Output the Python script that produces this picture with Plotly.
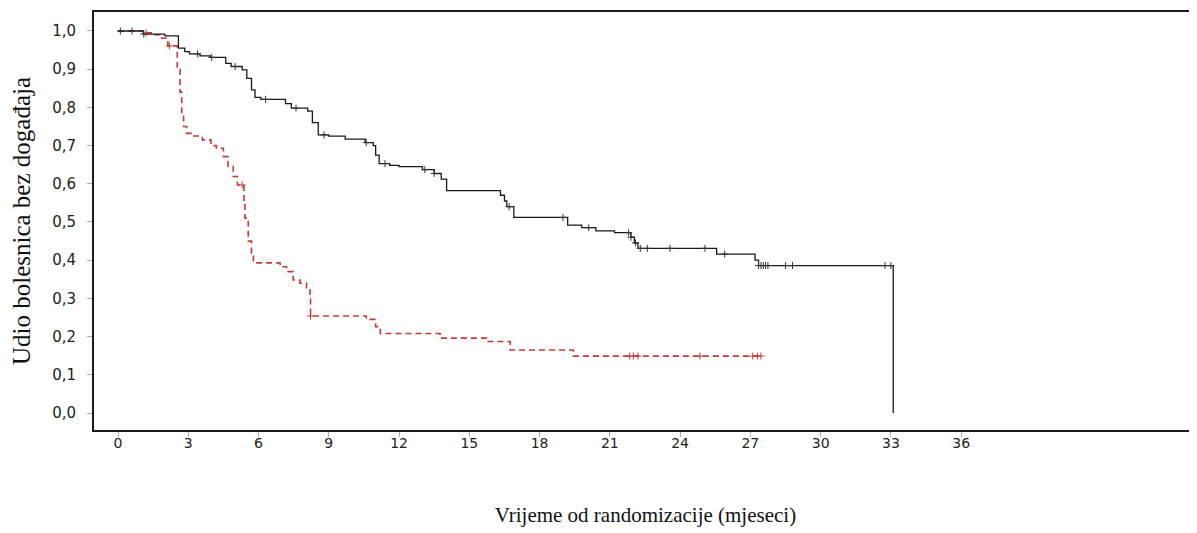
import numpy as np
import plotly.graph_objects as go

# ---- data ----
black_t = [0, 1.08, 2.0, 2.58, 2.85, 3.05, 3.5, 3.94, 4.6, 4.83, 5.3, 5.5, 5.7, 5.85, 6.1,
           7.15, 7.4, 8.1, 8.3, 8.55, 9.0, 9.7, 10.55, 10.9, 11.0, 11.15, 11.6, 12.0, 13.0,
           13.5, 13.8, 14.03, 16.33, 16.5, 16.6, 16.9, 19.2, 19.8, 20.4, 21.2, 21.9, 22.05,
           22.2, 25.56, 27.2, 27.35, 33.1]
black_s = [1.0, 0.992, 0.987, 0.955, 0.946, 0.94, 0.935, 0.931, 0.915, 0.907, 0.898, 0.876,
           0.846, 0.826, 0.821, 0.81, 0.798, 0.79, 0.76, 0.728, 0.725, 0.717, 0.708, 0.70,
           0.675, 0.653, 0.648, 0.645, 0.637, 0.627, 0.612, 0.582, 0.57, 0.555, 0.54, 0.512,
           0.492, 0.485, 0.477, 0.472, 0.46, 0.445, 0.431, 0.416, 0.40, 0.386, 0.0]
black_censor = [0.1, 0.6, 1.1, 3.4, 4.0, 5.0, 6.3, 7.6, 8.8, 10.6, 11.4, 13.1, 13.5, 16.7,
                19.0, 20.1, 21.8, 21.9, 22.1, 22.3, 22.6, 23.57, 25.06, 25.9, 27.35, 27.45,
                27.55, 27.65, 27.75, 28.5, 28.8, 32.75, 33.0]

red_t = [0, 1.08, 1.5, 1.87, 2.13, 2.53, 2.65, 2.72, 2.8, 2.93, 3.13, 3.6, 3.97, 4.2, 4.5,
         4.7, 4.92, 5.1, 5.38, 5.42, 5.56, 5.7, 5.78, 6.92, 7.2, 7.48, 7.77, 8.05, 8.2, 8.22,
         10.6, 11.0, 11.2, 13.75, 15.74, 16.74, 19.44, 27.5]
red_s = [1.0, 0.995, 0.99, 0.981, 0.961, 0.90, 0.84, 0.78, 0.75, 0.732, 0.725, 0.715, 0.70,
         0.693, 0.671, 0.645, 0.619, 0.597, 0.55, 0.51, 0.45, 0.418, 0.393, 0.383, 0.37,
         0.348, 0.34, 0.326, 0.304, 0.254, 0.245, 0.226, 0.208, 0.196, 0.187, 0.165, 0.149,
         0.149]
red_censor = [1.2, 2.2, 5.3, 8.22, 21.85, 22.0, 22.2, 24.85, 27.1, 27.3, 27.45]

x_ticks = list(range(0, 37, 3))
y_ticks = [round(0.1 * i, 1) for i in range(11)]

x_title = "Vrijeme od randomizacije (mjeseci)"
y_title = "Udio bolesnica bez događaja"


def surv_at(times, surv, pts):
    t = np.asarray(times)
    s = np.asarray(surv)
    idx = np.searchsorted(t, np.asarray(pts), side="right") - 1
    return s[np.clip(idx, 0, len(s) - 1)]


RED = "#c23b36"
SERIF = "Liberation Serif, Times New Roman, serif"

fig = go.Figure()
fig.add_trace(go.Scatter(x=red_t, y=red_s, mode="lines", line_shape="hv",
                         line=dict(color=RED, width=1.6, dash="6px,4px"),
                         hoverinfo="skip", showlegend=False))
fig.add_trace(go.Scatter(x=black_t, y=black_s, mode="lines", line_shape="hv",
                         line=dict(color="#1a1a1a", width=1.3),
                         hoverinfo="skip", showlegend=False))
fig.add_trace(go.Scatter(x=red_censor, y=surv_at(red_t, red_s, red_censor), mode="markers",
                         marker=dict(symbol="cross-thin", size=5,
                                     line=dict(color=RED, width=1)),
                         hoverinfo="skip", showlegend=False))
fig.add_trace(go.Scatter(x=black_censor, y=surv_at(black_t, black_s, black_censor),
                         mode="markers",
                         marker=dict(symbol="cross-thin", size=5,
                                     line=dict(color="#333333", width=1)),
                         hoverinfo="skip", showlegend=False))

# page body has an 8px offset; size/margins compensate so the plot area
# lands at x 94..1197, y 12..430 of the window
fig.update_layout(
    width=1189, height=525,
    margin=dict(l=86, r=0, t=4, b=103, autoexpand=False),
    paper_bgcolor="white", plot_bgcolor="white",
    separators=",.",
    font=dict(family="DejaVu Sans, Arial, sans-serif", size=14, color="#222222"),
)
fig.update_xaxes(
    range=[-1.025, 46.07], tickvals=x_ticks, ticks="outside", ticklen=5, tickwidth=1,
    tickcolor="#aaaaaa", showgrid=False, zeroline=False, automargin=False,
    ticklabelstandoff=-6,
    showline=True, linecolor="#1a1a1a", linewidth=2, mirror=True,
    title=dict(text=x_title, font=dict(family=SERIF, size=21, color="#111111"), standoff=58),
)
fig.update_yaxes(
    range=[-0.0445, 1.0497], tickvals=y_ticks, tickformat=".1f", ticks="outside", ticklen=5,
    tickwidth=1, tickcolor="#aaaaaa", showgrid=False, zeroline=False, automargin=False,
    ticklabelstandoff=8, tickfont=dict(size=15),
    showline=True, linecolor="#1a1a1a", linewidth=2,
    title=dict(text=y_title, font=dict(family=SERIF, size=25, color="#111111"), standoff=20),
)

fig.write_html("out.html")
